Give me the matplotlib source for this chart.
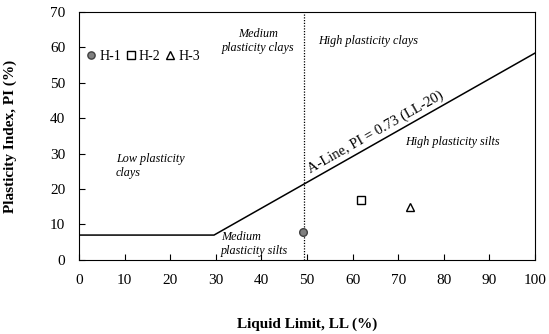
import matplotlib.pyplot as plt

plt.rcParams['font.family'] = ['Liberation Serif', 'DejaVu Serif']

# sample points (LL, PI)
names = ['H-1', 'H-2', 'H-3']
ll = [49.2, 61.8, 72.6]
pi = [7.8, 16.9, 14.9]

# A-line
aline_x = [0, 29.6, 100]
aline_y = [7, 7, 58.4]
ll_split = 49.3

fig = plt.figure(figsize=(5.49, 3.34), dpi=100)
ax = fig.add_axes([0.144, 0.222, 0.8305, 0.742])

ax.plot(aline_x, aline_y, color='black', lw=1.1)
ax.axvline(ll_split, color='black', lw=0.9, ls=(0, (1, 1.2)))

styles = [dict(marker='o', mfc='#808080', mec='#404040'),
          dict(marker='s', mfc='white', mec='black'),
          dict(marker='^', mfc='white', mec='black')]
for n, x, y, st in zip(names, ll, pi, styles):
    ax.plot(x, y, ls='none', ms=5.5, mew=1, label=n, **st)

leg = ax.legend(loc='center left', bbox_to_anchor=(0.009, 57.5 / 70), ncol=3, frameon=False,
                fontsize=10, handletextpad=0.05, columnspacing=0.15,
                handlelength=1.1, borderaxespad=0, borderpad=0, markerscale=0.95)

kw = dict(fontsize=8.75, style='italic')
ax.text(39.3, 61.8, 'Medium\nplasticity clays', ha='center', va='center', linespacing=1.3, **kw)
ax.text(52.4, 61.9, 'High plasticity clays', ha='left', va='center', **kw)
ax.text(8.1, 26.5, 'Low plasticity\nclays', ha='left', va='center', linespacing=1.3, **kw)
ax.text(31.1, 4.5, 'Medium\nplasticity silts', ha='left', va='center', linespacing=1.3, **kw)
ax.text(71.5, 33.3, 'High plasticity silts', ha='left', va='center', **kw)
ax.text(65.0, 36.0, 'A-Line, PI = 0.73 (LL-20)', ha='center', va='center',
        rotation=29.5, rotation_mode='anchor', fontsize=10.5)

ax.set_xlim(0, 100)
ax.set_ylim(0, 70)
ax.set_xticks(range(0, 101, 10))
ax.set_yticks(range(0, 71, 10))
ax.tick_params(direction='in', length=4, labelsize=11, pad=10)
ax.set_xlabel('Liquid Limit, LL (%)', fontsize=11, fontweight='bold', labelpad=22)
ax.set_ylabel('Plasticity Index, PI (%)', fontsize=11, fontweight='bold', labelpad=24)

fig.savefig('out.png', dpi=100)
